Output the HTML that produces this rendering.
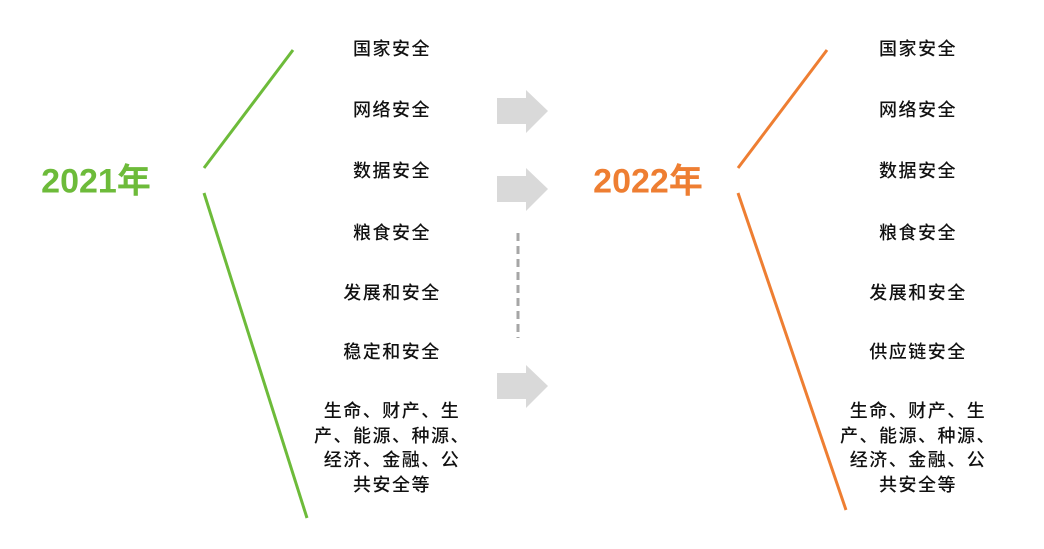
<!DOCTYPE html>
<html><head><meta charset="utf-8"><style>
body{margin:0;width:1044px;height:549px;background:#fff;position:relative;overflow:hidden;font-family:"Liberation Sans","Noto Sans CJK SC",sans-serif}
.t{position:absolute;width:220px;text-align:center;font-size:18px;letter-spacing:1.5px;color:#111;font-weight:500;line-height:24.5px;transform:translateY(-50%)}
.y{position:absolute;font-size:34px;font-weight:bold;transform:translate(-50%,-50%);white-space:nowrap}
</style></head><body>
<svg width="1044" height="549" style="position:absolute;left:0;top:0">
<g stroke="#6dbb3a" stroke-width="3"><line x1="204" y1="168" x2="293" y2="50"/><line x1="204" y1="193" x2="307" y2="518"/></g>
<g stroke="#ee7e32" stroke-width="3"><line x1="738" y1="168" x2="827" y2="50"/><line x1="738" y1="193" x2="846" y2="510"/></g>
<g fill="#d9d9d9">
<polygon points="497,98 526,98 526,90 548,111 526,133 526,124 497,124"/>
<polygon points="497,176 526,176 526,168 548,189 526,211 526,202 497,202"/>
<polygon points="497,373 526,373 526,365 548,386 526,408 526,399 497,399"/>
</g>
<line x1="518" y1="233" x2="518" y2="338" stroke="#a6a6a6" stroke-width="3" stroke-dasharray="8,5"/>
</svg>
<div class="y" style="left:96px;top:178px;color:#6dbb3a">2021年</div>
<div class="y" style="left:648px;top:178px;color:#ee7e32">2022年</div>
<div class="t" style="left:282px;top:49px">国家安全</div>
<div class="t" style="left:282px;top:110px">网络安全</div>
<div class="t" style="left:282px;top:171px">数据安全</div>
<div class="t" style="left:282px;top:233px">粮食安全</div>
<div class="t" style="left:282px;top:293px">发展和安全</div>
<div class="t" style="left:282px;top:352px">稳定和安全</div>
<div class="t" style="left:282px;top:448px">生命、财产、生<br>产、能源、种源、<br>经济、金融、公<br>共安全等</div>
<div class="t" style="left:808px;top:49px">国家安全</div>
<div class="t" style="left:808px;top:110px">网络安全</div>
<div class="t" style="left:808px;top:171px">数据安全</div>
<div class="t" style="left:808px;top:233px">粮食安全</div>
<div class="t" style="left:808px;top:293px">发展和安全</div>
<div class="t" style="left:808px;top:352px">供应链安全</div>
<div class="t" style="left:808px;top:448px">生命、财产、生<br>产、能源、种源、<br>经济、金融、公<br>共安全等</div>
</body></html>
